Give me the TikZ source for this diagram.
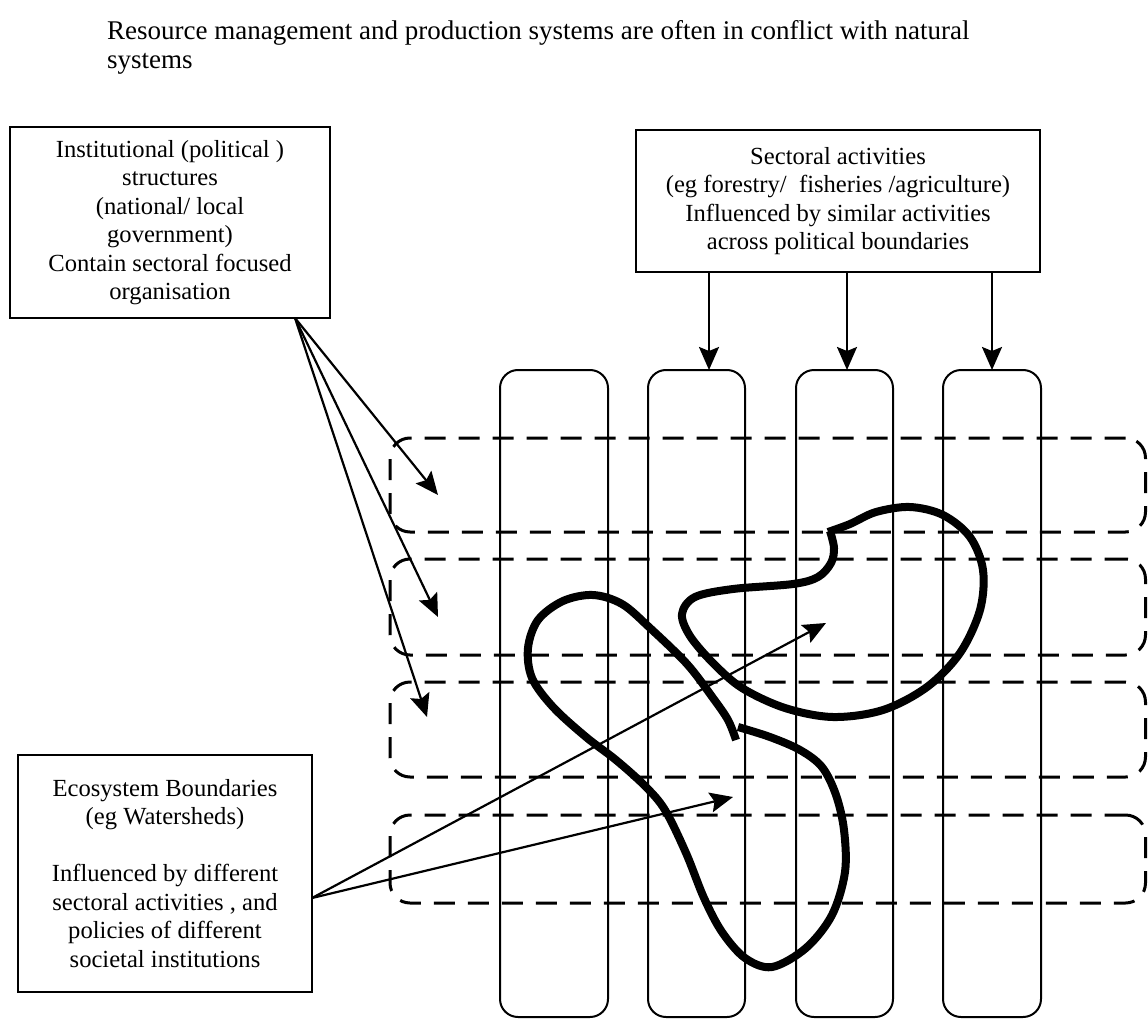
\documentclass[tikz,border=0pt]{standalone}
\usepackage{fontspec}
\setmainfont{Liberation Serif}
\usetikzlibrary{arrows.meta}
\begin{document}
\begin{tikzpicture}[x=1pt,y=-1pt,
  box/.style={draw, line width=2.6pt, align=center, inner sep=0pt,
    font=\fontsize{24.6}{28.5}\selectfont},
  column/.style={draw, line width=2pt, rounded corners=18pt, inner sep=0pt,
    minimum height=647pt},
  zone/.style={draw, line width=3pt, dash pattern=on 21pt off 13pt,
    rounded corners=20pt, inner sep=0pt},
  arr/.style={line width=2.2pt, -{Stealth[length=23pt,width=20pt,inset=4pt]}},
  blob/.style={line width=8pt, line join=round}
]
\useasboundingbox (0,0) rectangle (1148,1019);

% heading (two lines, first baseline at y=41)
\node[anchor=north west, align=left, inner sep=0pt,
      font=\fontsize{27}{29}\selectfont] (title) at (107,20)
  {Resource management and production systems are often in conflict with natural\\systems};

% the three text boxes
\node[box, minimum width=320pt, minimum height=191pt] (inst) at (170,222.5)
  {Institutional (political )\\structures\\(national/ local\\government)\\Contain sectoral focused\\organisation};
\node[box, minimum width=404pt, minimum height=142pt] (sect) at (838,201)
  {Sectoral activities\\(eg forestry/\ \ fisheries /agriculture)\\Influenced by similar activities\\across political boundaries};
\node[box, minimum width=294pt, minimum height=237pt] (eco) at (165,873.5)
  {Ecosystem Boundaries\\(eg Watersheds)\\[28.5pt]Influenced by different\\sectoral activities , and\\policies of different\\societal institutions};

% sector columns
\node[column, minimum width=108pt] (c1) at (554,693.5) {};
\node[column, minimum width=97pt] (c2) at (696.5,693.5) {};
\node[column, minimum width=97pt] (c3) at (844.5,693.5) {};
\node[column, minimum width=98pt] (c4) at (992,693.5) {};

% political zones
\node[zone, minimum width=755.5pt, minimum height=94pt] (r1) at (767.75,485) {};
\node[zone, minimum width=755.5pt, minimum height=96pt] (r2) at (767.75,607) {};
\node[zone, minimum width=755.5pt, minimum height=95pt] (r3) at (767.75,729.5) {};
\node[zone, minimum width=755.5pt, minimum height=88pt] (r4) at (767.75,859) {};

% ecosystem (watershed) outline
\draw[blob] plot[smooth, tension=0.55] coordinates {
  (830,531) (834,548) (831,563) (818,577) (793,584) (733,589) (695,597)
  (682,614) (690,636) (713,663) (742,688) (785,708) (833,717) (883,710)
  (927,687) (960,653) (980,610) (983,570) (970,537) (943,515) (910,507)
  (876,512) (850,524) (828,532)};
\draw[blob] plot[smooth, tension=0.55] coordinates {
  (738,727) (770,737) (800,750) (822,767) (836,795) (844,830) (845,872)
  (832,915) (806,948) (772,967) (745,958) (722,932) (704,898) (686,853)
  (665,810) (645,786) (616,760) (586,737) (553,707) (532,678) (528,648)
  (538,620) (563,601) (593,595) (622,604) (650,628) (687,664) (713,698)
  (728,720) (736,740)};

% arrows from the sector box to the columns
\coordinate (a2) at (709,370);
\coordinate (a3) at (847,370);
\coordinate (a4) at (992,370);
\draw[arr] (sect.south -| a2) -- (a2);
\draw[arr] (sect.south -| a3) -- (a3);
\draw[arr] (sect.south -| a4) -- (a4);

% arrows from the institutional box to the zones
\coordinate (ifoot) at (295,318);
\coordinate (t1) at (438,495);
\coordinate (t2) at (438,617);
\coordinate (t3) at (427,717);
\draw[arr] (ifoot) -- (t1);
\draw[arr] (ifoot) -- (t2);
\draw[arr] (ifoot) -- (t3);

% arrows from the ecosystem box into the outline
\coordinate (efoot) at (312,898);
\coordinate (u1) at (826,623);
\coordinate (u2) at (733,797);
\draw[arr] (efoot) -- (u1);
\draw[arr] (efoot) -- (u2);
\end{tikzpicture}
\end{document}
